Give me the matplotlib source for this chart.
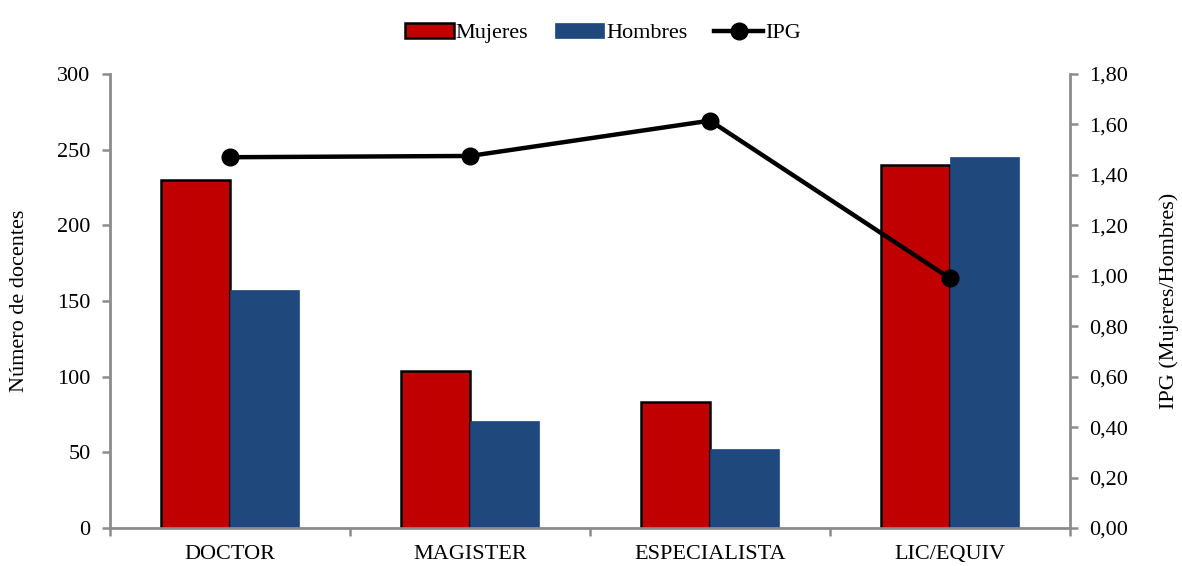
import numpy as np
import matplotlib.pyplot as plt
from matplotlib.ticker import FuncFormatter

categorias = ['DOCTOR', 'MAGISTER', 'ESPECIALISTA', 'LIC/EQUIV']
mujeres = [230, 104, 83, 240]
hombres = [157, 71, 52, 245]
ipg = [1.47, 1.475, 1.615, 0.99]

plt.rcParams['font.family'] = ['Liberation Serif', 'DejaVu Serif']
gris = '#8c8c8c'
fs = 16

fig = plt.figure(figsize=(11.82, 5.66), dpi=100)
ax = fig.add_axes([0.0931, 0.0671, 0.8121, 0.8022])
x = np.arange(len(categorias))
w = 0.2875

b1 = ax.bar(x - w/2, mujeres, w, color='#c00000', edgecolor='black', linewidth=1.8,
            label='Mujeres', zorder=2)
b2 = ax.bar(x + w/2, hombres, w, color='#1f497d', edgecolor='#1f497d', linewidth=0.5,
            label='Hombres', zorder=2)

ax.set_xlim(-0.5, len(categorias) - 0.5)
ax.set_ylim(0, 300)
ax.set_yticks(np.arange(0, 301, 50))
ax.set_xticks(x)
ax.set_xticklabels(categorias, fontsize=fs)
ax.set_xticks(np.arange(-0.5, len(categorias), 1), minor=True)
ax.tick_params(axis='x', which='major', length=0, pad=12)
ax.tick_params(axis='x', which='minor', length=6, width=1.8, color=gris, direction='out')
ax.tick_params(axis='y', length=6, width=1.8, color=gris, labelsize=fs, pad=8)
ax.set_ylabel('Número de docentes', fontsize=fs, labelpad=20)
for s in ['top', 'right']:
    ax.spines[s].set_visible(False)
for s in ['left', 'bottom']:
    ax.spines[s].set_color(gris)
    ax.spines[s].set_linewidth(2)

ax2 = ax.twinx()
ln, = ax2.plot(x, ipg, color='black', linewidth=3.2, marker='o', markersize=12,
               label='IPG', zorder=3)
ax2.set_ylim(0, 1.8)
ax2.set_yticks(np.arange(0, 1.81, 0.2))
ax2.yaxis.set_major_formatter(FuncFormatter(lambda v, p: f'{v:.2f}'.replace('.', ',')))
ax2.tick_params(axis='y', length=6, width=1.8, color=gris, labelsize=fs, pad=8)
ax2.set_ylabel('IPG (Mujeres/Hombres)', fontsize=fs, labelpad=22)
for s in ['top', 'left', 'bottom']:
    ax2.spines[s].set_visible(False)
ax2.spines['right'].set_color(gris)
ax2.spines['right'].set_linewidth(2)

fig.legend([b1, b2, ln], ['Mujeres', 'Hombres', 'IPG'], loc='upper center',
           bbox_to_anchor=(0.51, 0.995), ncol=3, frameon=False, fontsize=fs,
           handlelength=2.2, handletextpad=0.1, columnspacing=1.2)

fig.savefig('out.png', dpi=100)
